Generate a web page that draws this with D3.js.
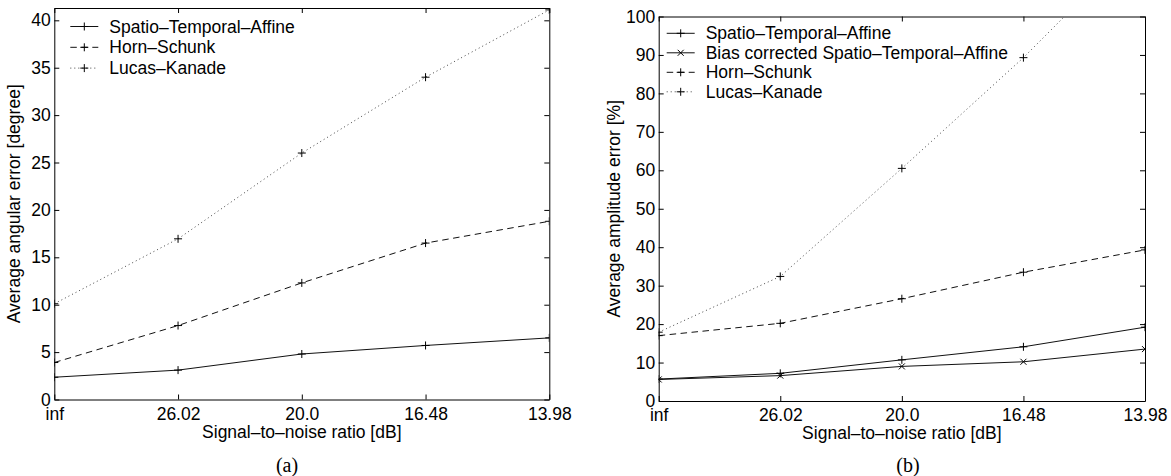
<!DOCTYPE html>
<html>
<head>
<meta charset="utf-8">
<script src="https://cdn.jsdelivr.net/npm/d3@7"></script>
<style>
    body { margin: 0; background: #fff; }
    svg text { font-family: "Liberation Sans", Arial, Helvetica, sans-serif; fill: #000; }
    .axis path, .axis line { stroke: #000; stroke-width: 1; }
    .axis text { font-size: 17.5px; }
    .axis-title { font-size: 17.5px; }
    .legend text { font-size: 17.5px; }
    .caption { font-family: "Liberation Serif", "Times New Roman", serif !important; font-size: 20px; }
</style>
</head>
<body>
<svg id="figure" width="1171" height="476"></svg>
<script>
// x categories (signal-to-noise ratio, dB)
const snrLabels = ['inf', '26.02', '20.0', '16.48', '13.98']

// (a) average angular error [degree]
const angStaAffine = [2.35, 3.1, 4.8, 5.7, 6.5]
const angHornSchunk = [3.9, 7.8, 12.3, 16.5, 18.8]
const angLucasKanade = [10.1, 16.95, 26.0, 34.0, 41.1]
const angTicks = [0, 5, 10, 15, 20, 25, 30, 35, 40]

// (b) average amplitude error [%]
const ampStaAffine = [5.7, 7.2, 10.7, 14.1, 19.2]
const ampBiasCorrected = [5.6, 6.6, 9.0, 10.2, 13.5]
const ampHornSchunk = [17.0, 20.2, 26.6, 33.5, 39.3]
const ampLucasKanade = [17.9, 32.4, 60.5, 89.3, 121]
const ampTicks = [0, 10, 20, 30, 40, 50, 60, 70, 80, 90, 100]

// line styles
const styles = {
    solid: {dash: null, width: 1, color: '#111'},
    dashed: {dash: '6.5,4.5', width: 1, color: '#111'},
    dotted: {dash: '1,3', width: 1, color: '#444'},
}
const plusPath = 'M-4,0H4M0,-4V4'
const crossPath = 'M-3,-3L3,3M-3,3L3,-3'

class LineChart {

    constructor(cfg, series) {
        this.config = cfg
        this.series = series
        this.initVis()
    }

    initVis() {
        let vis = this
        const c = vis.config

        vis.width = c.right - c.left
        vis.height = c.bottom - c.top

        vis.g = d3.select('#figure').append('g')
            .attr('transform', `translate(${c.left},${c.top})`)

        vis.xScale = d3.scalePoint()
            .domain(snrLabels)
            .range([0, vis.width])

        vis.yScale = d3.scaleLinear()
            .domain(c.yDomain)
            .range([vis.height, 0])

        vis.g.append('clipPath').attr('id', c.id + '-clip')
            .append('rect').attr('width', vis.width).attr('height', vis.height)

        // axes, ticks pointing inwards like matlab
        vis.g.append('g').attr('class', 'axis')
            .attr('transform', `translate(0,${vis.height})`)
            .call(d3.axisBottom(vis.xScale).tickSizeInner(-5).tickSizeOuter(0).tickPadding(7.8))
        vis.g.append('g').attr('class', 'axis')
            .call(d3.axisTop(vis.xScale).tickSizeInner(-5).tickSizeOuter(0).tickFormat(''))
        vis.g.append('g').attr('class', 'axis')
            .call(d3.axisLeft(vis.yScale).tickValues(c.yTicks).tickSizeInner(-5).tickSizeOuter(0).tickPadding(3.5))
        vis.g.append('g').attr('class', 'axis')
            .attr('transform', `translate(${vis.width},0)`)
            .call(d3.axisRight(vis.yScale).tickValues(c.yTicks).tickSizeInner(-5).tickSizeOuter(0).tickFormat(''))

        // titles
        vis.g.append('text')
            .attr('class', 'axis-title')
            .attr('x', vis.width / 2)
            .attr('y', vis.height + c.xTitleDy)
            .attr('text-anchor', 'middle')
            .text('Signal\u2013to\u2013noise ratio [dB]')

        vis.g.append('text')
            .attr('class', 'axis-title')
            .attr('transform', `translate(${c.yTitleX - c.left},${vis.height / 2}) rotate(-90)`)
            .attr('text-anchor', 'middle')
            .text(c.yLabel)

        d3.select('#figure').append('text')
            .attr('class', 'caption')
            .attr('x', c.captionX)
            .attr('y', 472)
            .attr('text-anchor', 'middle')
            .text(c.caption)

        vis.renderVis()
    }

    renderVis() {
        let vis = this
        const c = vis.config

        const line = d3.line()
            .x((d, i) => vis.xScale(snrLabels[i]))
            .y(d => vis.yScale(d))

        const plot = vis.g.append('g').attr('clip-path', `url(#${c.id}-clip)`)

        vis.series.forEach(s => {
            const st = styles[s.style]
            plot.append('path')
                .datum(s.values)
                .attr('fill', 'none')
                .attr('stroke', st.color)
                .attr('stroke-width', st.width)
                .attr('stroke-dasharray', st.dash)
                .attr('d', line)

            plot.selectAll(null)
                .data(s.values)
                .join('path')
                    .attr('transform', (d, i) => `translate(${vis.xScale(snrLabels[i])},${vis.yScale(d)})`)
                    .attr('d', s.marker === 'x' ? crossPath : plusPath)
                    .attr('stroke', '#000')
                    .attr('stroke-width', 1)
                    .attr('fill', 'none')
        })

        // legend, no box
        const legend = vis.g.append('g')
            .attr('class', 'legend')
            .attr('transform', `translate(${c.legendX},${c.legendY})`)

        const rows = legend.selectAll('g')
            .data(vis.series)
            .join('g')
                .attr('transform', (d, i) => `translate(0,${i * c.legendStep})`)

        rows.append('line')
            .attr('x1', 0).attr('x2', 28)
            .attr('stroke', d => styles[d.style].color)
            .attr('stroke-width', 1)
            .attr('stroke-dasharray', d => styles[d.style].dash)
        rows.append('path')
            .attr('transform', 'translate(14,0)')
            .attr('d', d => d.marker === 'x' ? crossPath : plusPath)
            .attr('stroke', '#000')
            .attr('fill', 'none')
        rows.append('text')
            .attr('x', 39)
            .attr('y', 6)
            .text(d => d.name)
    }
}

new LineChart({
    id: 'ang', left: 54.3, right: 549.3, top: 8, bottom: 399.5,
    yDomain: [0, 41.3], yTicks: angTicks,
    yLabel: 'Average angular error [degree]', yTitleX: 19.5, xTitleDy: 38,
    legendX: 16, legendY: 18.5, legendStep: 20.8,
    caption: '(a)', captionX: 287,
}, [
    {name: 'Spatio\u2013Temporal\u2013Affine', values: angStaAffine, style: 'solid', marker: '+'},
    {name: 'Horn\u2013Schunk', values: angHornSchunk, style: 'dashed', marker: '+'},
    {name: 'Lucas\u2013Kanade', values: angLucasKanade, style: 'dotted', marker: '+'},
])

new LineChart({
    id: 'amp', left: 658.7, right: 1145, top: 16.5, bottom: 401,
    yDomain: [0, 100], yTicks: ampTicks,
    yLabel: 'Average amplitude error [%]', yTitleX: 619.5, xTitleDy: 38,
    legendX: 8, legendY: 16.8, legendStep: 19.5,
    caption: '(b)', captionX: 908,
}, [
    {name: 'Spatio\u2013Temporal\u2013Affine', values: ampStaAffine, style: 'solid', marker: '+'},
    {name: 'Bias corrected Spatio\u2013Temporal\u2013Affine', values: ampBiasCorrected, style: 'solid', marker: 'x'},
    {name: 'Horn\u2013Schunk', values: ampHornSchunk, style: 'dashed', marker: '+'},
    {name: 'Lucas\u2013Kanade', values: ampLucasKanade, style: 'dotted', marker: '+'},
])
</script>
</body>
</html>
